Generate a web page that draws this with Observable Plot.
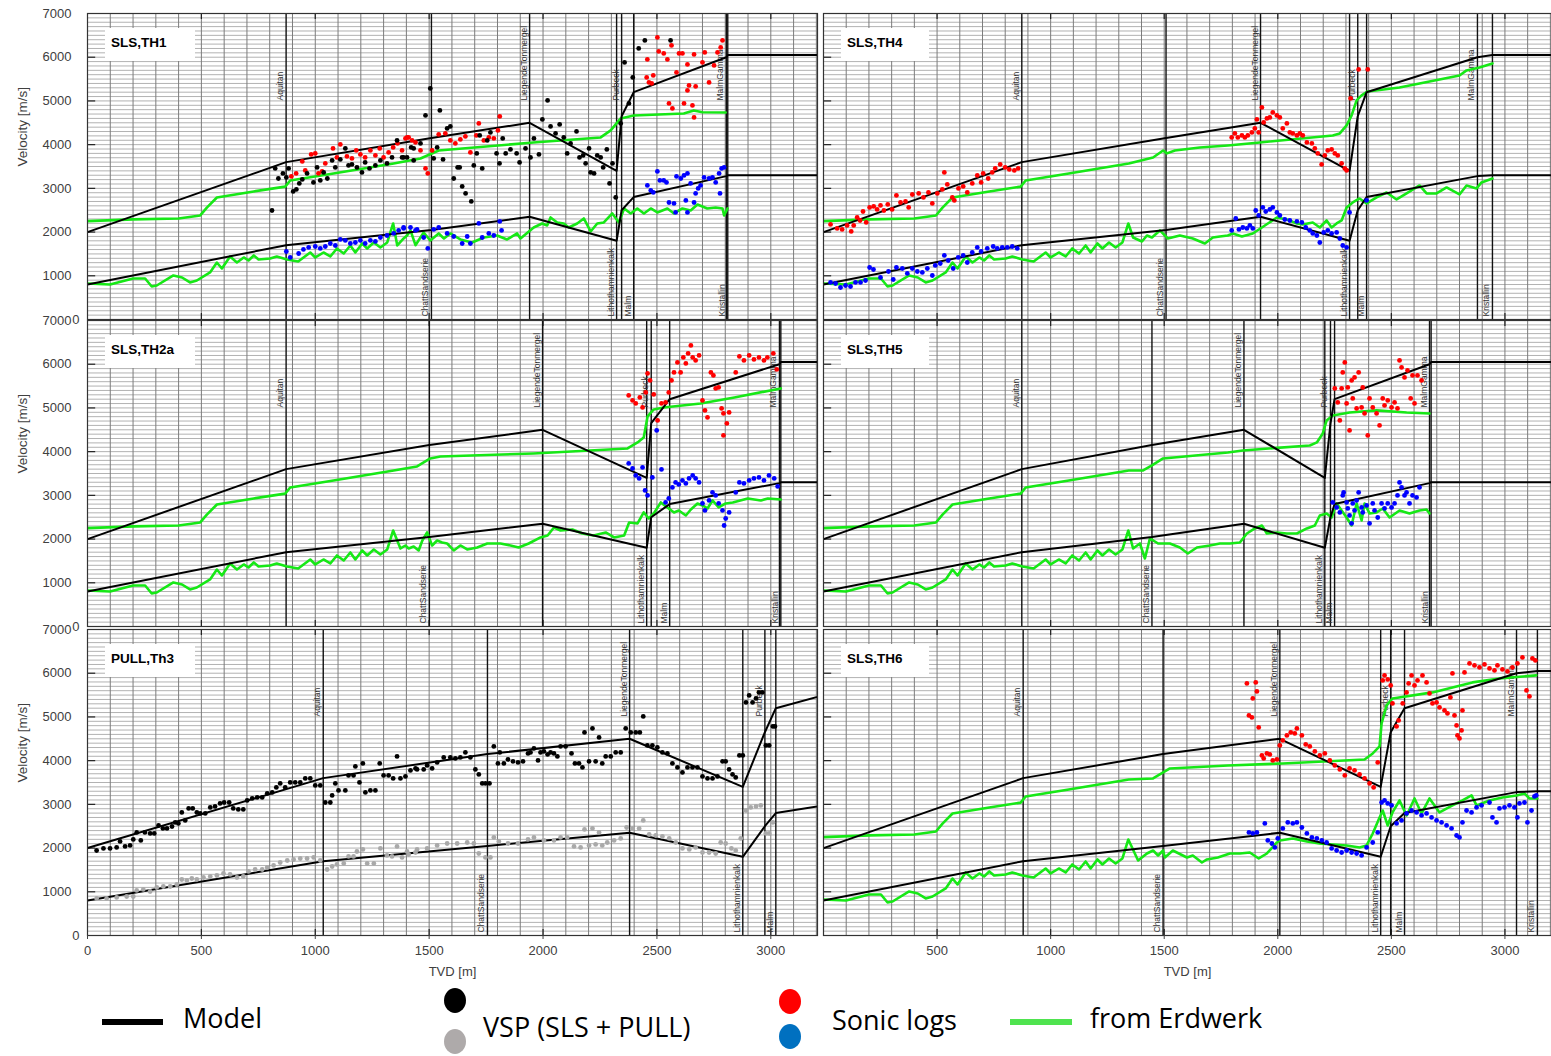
<!DOCTYPE html>
<html>
<head>
<meta charset="utf-8">
<script src="https://cdn.jsdelivr.net/npm/d3@7"></script>
<script src="https://cdn.jsdelivr.net/npm/@observablehq/plot@0.6"></script>
<style>
  body { margin: 0; background: #fff; }
  #fig { position: relative; width: 1551px; height: 1056px; overflow: hidden; font-family: "Liberation Sans", Arial, sans-serif; }
  .panel { position: absolute; }
  .panel svg { overflow: visible; max-width: none; }
  .tag { position: absolute; height: 33px; background: #fff; font-weight: bold; font-size: 13.5px; line-height: 30px; padding-left: 6px; box-sizing: border-box; color: #000; }
  .lt { position: absolute; font-family: "Open Sans", sans-serif; font-size: 27px; line-height: 32px; color: #000; white-space: nowrap; }
  .lg { position: absolute; }
  .ld { position: absolute; width: 22px; height: 25px; border-radius: 50%; }
</style>
</head>
<body>
<div id="fig"></div>
<script>
// ---- Depth axis extent (TVD, m) ----
const X_MAX = 3205;

// ---- Velocity model: value at each formation top ----
const formationNames = ["Aquitan", "ChattSandserie", "LiegendeTonmergel", "Lithothamnienkalk", "Purbeck", "Malm", "MalmGamma", "Kristallin"];
const surfaceVp = 2000;
const surfaceVs = 800;
const modelVpAtTop = [3600, 4150, 4500, 3400, 4650, 5200, 6000, 6050];
const modelVsAtTop = [1700, 2050, 2350, 1800, 2500, 2800, 3280, 3300];

// ---- Formation top depths per well (same order as formationNames) ----
const topsTH1 = [872, 1510, 1941, 2323, 2345, 2398, 2805, 2811];
const topsTH4 = [873, 1508, 1924, 2316, 2352, 2391, 2879, 2945];
const topsTH2a = [872, 1501, 1998, 2455, 2475, 2556, 3038, 3044];
const topsTH5 = [873, 1446, 1851, 2207, 2232, 2250, 2668, 2675];
const topsTh3 = [1035, 1756, 2380, 2877, 2974, 3022, 3590, 3600];
const topsTH6 = [879, 1495, 2009, 2453, 2497, 2558, 3051, 3143];

// ---- Erdwerk velocity profiles [depth, velocity] ----
const erdwerkShallowVp = [[0,2250],[200,2290],[400,2310],[495,2380],[524,2560],[568,2790],[730,2930],[868,3040],[890,3180],[1080,3340],[1344,3570]];
const erdwerkShallowVs = [[0,824],[99,800],[200,938],[253,938],[282,755],[304,778],[377,1007],[415,961],[450,847],[480,892],[538,1076],[568,1304],[590,1167],[626,1442],[656,1304],[686,1419],[707,1350],[730,1465],[751,1373],[802,1396],[831,1442],[876,1373],[925,1327],[978,1533],[1000,1419],[1036,1533],[1066,1442],[1095,1625],[1125,1510],[1154,1693],[1176,1533],[1206,1739],[1228,1625],[1257,1762],[1286,1648],[1316,1762],[1342,2197]];

const erdwerkVpTH1 = [[1462,3684],[1542,3867],[1958,4050],[2253,4165],[2297,4325],[2341,4600],[2398,4668],[2618,4714],[2662,4783],[2700,4740],[2802,4737]];
const erdwerkVsTH1 = [[1360,1693],[1388,1853],[1403,1922],[1418,2037],[1440,1700],[1476,1991],[1505,1808],[1542,1968],[1565,1853],[1593,1968],[1637,1831],[1688,1762],[1740,1876],[1798,1922],[1842,1831],[1886,1968],[1901,1853],[1959,2105],[1996,2197],[2018,2151],[2033,2334],[2062,2220],[2091,2197],[2113,2105],[2150,2197],[2179,2311],[2209,2014],[2238,2197],[2267,2220],[2304,2426],[2333,2220],[2356,2540],[2385,2426],[2414,2540],[2443,2426],[2473,2540],[2502,2449],[2546,2540],[2575,2426],[2612,2540],[2648,2494],[2678,2632],[2721,2540],[2758,2563],[2788,2540],[2795,2380],[2810,2540]];

const erdwerkVpTH4 = [[1451,3707],[1495,3867],[1512,3800],[1547,3867],[1657,3936],[1780,3982],[1921,4050],[2242,4211],[2273,4256],[2303,4439],[2325,4668],[2347,5011],[2369,5126],[2396,5217],[2536,5309],[2800,5583],[2831,5698],[2888,5767],[2945,5858]];
const erdwerkVsTH4 = [[1363,1876],[1402,1785],[1424,1922],[1446,1876],[1481,2037],[1516,1853],[1569,1922],[1626,1853],[1679,1739],[1714,1876],[1745,1899],[1780,1922],[1802,1968],[1842,1899],[1890,1968],[1930,2105],[1996,2334],[2040,2288],[2084,2197],[2110,2174],[2154,2220],[2185,2105],[2215,2265],[2237,2105],[2259,2197],[2281,2265],[2303,2563],[2330,2677],[2360,2769],[2391,2655],[2435,2792],[2479,2906],[2523,2746],[2567,2883],[2624,3066],[2655,2883],[2699,2883],[2743,3021],[2800,2860],[2831,3066],[2875,2998],[2897,3135],[2945,3226]];

const erdwerkVpTH2a = [[1447,3661],[1505,3844],[1549,3890],[1958,3959],[2371,4073],[2415,4211],[2442,4325],[2459,4805],[2486,4966],[2530,5011],[2692,5103],[2840,5240],[3044,5446]];
const erdwerkVsTH2a = [[1374,1785],[1396,1853],[1410,1785],[1432,1831],[1454,1739],[1470,1968],[1491,2151],[1513,1853],[1535,1968],[1557,1922],[1579,1899],[1608,1739],[1637,1853],[1667,1762],[1711,1808],[1755,1899],[1813,1899],[1857,1853],[1893,1808],[1937,1899],[1989,2037],[2020,2083],[2048,2265],[2077,2197],[2129,2220],[2173,2128],[2222,2083],[2275,2151],[2312,2037],[2356,2083],[2378,2380],[2415,2357],[2442,2609],[2464,2471],[2486,2586],[2517,2838],[2546,2723],[2575,2609],[2596,2655],[2627,2540],[2649,2677],[2678,2815],[2700,2769],[2722,2700],[2744,2883],[2771,2723],[2802,2815],[2833,2838],[2899,2929],[2956,2883],[2987,2929],[3044,2906]];

const erdwerkVpTH5 = [[1407,3570],[1446,3684],[1495,3844],[1780,3982],[1846,4027],[2141,4142],[2172,4211],[2198,4417],[2215,4714],[2242,4828],[2316,4897],[2435,4943],[2567,4897],[2668,4874]];
const erdwerkVsTH5 = [[1363,1785],[1393,1899],[1415,1556],[1437,2014],[1473,1899],[1525,1899],[1569,1808],[1604,1670],[1644,1808],[1701,1853],[1745,1899],[1789,1899],[1833,1922],[1864,2128],[1899,2243],[1930,2311],[1952,2128],[1996,2151],[2040,2128],[2084,2128],[2128,2243],[2163,2311],[2185,2540],[2215,2586],[2237,2494],[2259,2815],[2281,2655],[2303,2494],[2325,2311],[2347,2815],[2369,2426],[2382,2815],[2404,2586],[2435,2609],[2462,2700],[2492,2494],[2536,2655],[2580,2586],[2624,2655],[2655,2677],[2668,2586]];

const erdwerkVpTH6 = [[1451,3593],[1525,3822],[1780,3890],[2022,3936],[2382,4027],[2418,4165],[2448,4325],[2457,4851],[2479,5263],[2505,5423],[2681,5561],[2857,5790],[2976,5881],[3138,5950]];
const erdwerkVsTH6 = [[1385,1716],[1424,1876],[1451,1945],[1473,1831],[1495,1945],[1503,1785],[1538,1945],[1600,1785],[1626,1831],[1666,1670],[1688,1739],[1736,1785],[1789,1876],[1833,1876],[1877,1899],[1916,1762],[1952,1876],[1996,2128],[2009,2174],[2066,2220],[2128,2151],[2185,2105],[2242,2083],[2303,2060],[2360,2014],[2391,2060],[2418,2334],[2448,2700],[2462,2860],[2484,2517],[2505,2815],[2536,3089],[2567,2746],[2602,3135],[2633,2792],[2668,3135],[2712,2815],[2769,2975],[2813,3089],[2853,3204],[2875,2975],[2932,3089],[2989,3158],[3051,3204],[3086,3249],[3108,3135],[3143,3135]];

// ---- Sonic logs [depth, velocity] ----
const sonicVpTH1 = [[895,3272],[916,3341],[943,3616],[956,3410],[982,3776],[1000,3799],[1014,3341],[1030,3387],[1044,3570],[1078,3913],[1095,3707],[1110,4005],[1139,3730],[1161,3684],[1180,3867],[1198,3776],[1219,3707],[1242,3867],[1264,3753],[1283,3913],[1300,3707],[1322,3822],[1342,3936],[1361,4027],[1381,3867],[1396,4142],[1403,4165],[1410,4165],[1425,4096],[1440,4050],[1462,3867],[1484,3455],[1494,3341],[1513,3867],[1542,4233],[1571,4256],[1593,4096],[1615,4027],[1637,4119],[1659,4188],[1681,3822],[1707,4211],[1718,4485],[1740,4096],[1762,4165],[1784,4142],[1802,4325],[1810,4645],[2455,5538],[2458,5950],[2465,5423],[2477,5400],[2484,5583],[2502,6453],[2508,6133],[2530,6087],[2546,5950],[2553,4943],[2564,6270],[2568,4828],[2586,5652],[2597,6087],[2612,6087],[2619,4943],[2634,5835],[2634,5240],[2641,5355],[2656,4897],[2663,6064],[2663,4622],[2670,5332],[2700,5881],[2710,6110],[2729,5423],[2751,5812],[2766,6110],[2780,6224],[2788,6384]];
const sonicVsTH1 = [[873,1556],[890,1419],[927,1510],[948,1602],[971,1648],[1000,1670],[1022,1625],[1044,1670],[1066,1739],[1088,1693],[1110,1831],[1132,1808],[1154,1739],[1176,1762],[1198,1808],[1219,1739],[1242,1808],[1264,1785],[1286,1876],[1315,1922],[1344,1968],[1366,2037],[1388,2105],[1388,2083],[1418,2105],[1440,2037],[1447,2060],[1476,1876],[1494,1625],[1520,2060],[1542,2105],[1579,1968],[1608,1899],[1645,1739],[1667,1899],[1681,1739],[1718,2197],[1733,1876],[1762,1968],[1784,1922],[1810,2243],[1818,2037],[2458,3066],[2473,2952],[2484,2906],[2502,3387],[2513,3181],[2530,3181],[2542,3135],[2553,2677],[2575,2655],[2582,2449],[2586,3272],[2605,3226],[2619,3295],[2627,2723],[2634,3341],[2634,2449],[2648,3112],[2663,2677],[2670,2883],[2681,2998],[2692,3066],[2707,3249],[2729,3226],[2744,3249],[2758,3135],[2773,3341],[2777,2883],[2784,3455],[2795,3478]];

const sonicVpTH4 = [[31,2174],[60,2083],[82,2060],[104,2151],[122,2014],[133,2151],[148,2334],[161,2265],[174,2471],[188,2220],[203,2563],[221,2586],[236,2517],[251,2609],[266,2494],[283,2632],[302,2517],[321,2838],[339,2677],[361,2700],[375,2563],[391,2860],[419,2883],[440,2792],[462,2906],[479,2655],[501,2883],[523,2975],[532,3364],[545,3089],[567,2792],[576,2723],[594,2998],[615,3044],[633,2906],[655,3112],[677,3295],[694,3135],[703,3341],[725,3226],[743,3364],[756,3455],[778,3547],[800,3478],[818,3432],[840,3410],[857,3455],[1797,4165],[1811,4256],[1824,4165],[1842,4211],[1855,4165],[1868,4211],[1886,4279],[1899,4371],[1908,4577],[1916,4279],[1930,4851],[1938,4508],[1952,4600],[1965,4622],[1978,4737],[1996,4668],[2009,4622],[2022,4371],[2040,4485],[2053,4279],[2066,4256],[2084,4211],[2097,4256],[2110,4211],[2128,4050],[2150,4027],[2163,3913],[2176,3799],[2193,3547],[2207,3753],[2220,3867],[2237,3890],[2251,3799],[2264,3753],[2281,3570],[2295,3455],[2303,3410],[2321,5057],[2356,5721],[2396,5721]];
const sonicVsTH4 = [[31,847],[53,824],[75,732],[97,778],[119,755],[141,847],[163,847],[185,892],[203,1190],[220,1144],[251,961],[286,1098],[307,915],[321,1190],[347,1167],[369,1053],[391,1167],[413,1098],[435,1076],[457,1167],[479,1007],[492,1236],[514,1281],[532,1465],[549,1350],[571,1167],[593,1419],[615,1465],[633,1304],[655,1533],[677,1648],[694,1556],[721,1625],[747,1670],[765,1625],[787,1648],[809,1648],[831,1670],[853,1625],[1797,2037],[1815,2311],[1829,2060],[1846,2105],[1864,2083],[1877,2151],[1890,2083],[1903,2494],[1916,2380],[1934,2563],[1947,2471],[1965,2517],[1978,2563],[1996,2449],[2009,2380],[2031,2288],[2053,2265],[2084,2243],[2106,2220],[2123,2105],[2141,2037],[2154,1968],[2172,1922],[2185,1762],[2202,1991],[2220,2037],[2237,1968],[2259,1991],[2273,1853],[2286,1693],[2303,1648],[2316,2449],[2391,2723]];

const sonicVpTH2a = [[2376,5286],[2393,5172],[2407,5103],[2425,5240],[2437,5011],[2451,5355],[2459,5790],[2470,5629],[2486,5309],[2503,4714],[2520,5103],[2538,5126],[2552,5355],[2564,5629],[2575,5812],[2590,6041],[2604,5812],[2616,6155],[2627,6018],[2637,6247],[2649,6430],[2657,6155],[2670,6087],[2685,6201],[2700,5172],[2711,4943],[2722,4783],[2737,5812],[2748,5744],[2758,5446],[2771,5469],[2784,4989],[2792,4874],[2792,4371],[2807,4645],[2817,4897],[2846,5812],[2862,6178],[2882,6087],[2905,6201],[2926,6110],[2948,6155],[2970,6087],[2985,6155],[3011,6247],[3026,5881]];
const sonicVsTH2a = [[2376,3730],[2393,3616],[2407,3455],[2422,3387],[2437,3638],[2448,3112],[2459,2998],[2480,3410],[2499,4485],[2520,3593],[2538,2838],[2552,2929],[2568,3181],[2582,3295],[2596,3249],[2612,3341],[2627,3272],[2641,3387],[2657,3455],[2670,3387],[2685,3295],[2700,2815],[2711,2655],[2729,2883],[2744,3066],[2758,2998],[2771,2815],[2788,2655],[2795,2311],[2802,2471],[2817,2609],[2846,3066],[2862,3295],[2882,3272],[2905,3341],[2926,3387],[2948,3410],[2970,3341],[2992,3455],[3015,3387],[3030,3204]];

const sonicVpTH5 = [[2251,5446],[2264,5126],[2273,4714],[2281,5446],[2286,5812],[2295,6041],[2303,5103],[2308,5469],[2316,4485],[2325,5629],[2330,5217],[2338,5698],[2347,4989],[2356,5812],[2369,5011],[2374,5469],[2382,4874],[2396,4371],[2404,5217],[2418,5011],[2435,4874],[2448,4600],[2462,5217],[2470,5057],[2484,5172],[2501,5011],[2514,5126],[2527,4989],[2536,6087],[2545,5927],[2558,5698],[2571,5858],[2585,5217],[2593,5744],[2602,5103],[2615,5744],[2633,5629]];
const sonicVsTH5 = [[2242,2838],[2259,2723],[2273,2609],[2286,2998],[2290,3066],[2303,2838],[2308,2700],[2316,2540],[2325,2357],[2330,2815],[2338,2655],[2347,2883],[2356,3066],[2369,2723],[2374,2609],[2391,2769],[2404,2357],[2418,2815],[2426,2655],[2440,2494],[2457,2815],[2470,2700],[2484,2815],[2501,2723],[2514,2815],[2527,2998],[2536,3295],[2545,3181],[2558,2998],[2567,3066],[2580,2815],[2593,2998],[2611,2952],[2624,3181]];

const sonicVpTH6 = [[1864,5767],[1873,5034],[1886,4989],[1890,5423],[1903,5790],[1908,5584],[1916,4760],[1930,4119],[1938,4050],[1952,4165],[1965,4142],[1978,4005],[1996,4027],[2009,4348],[2022,4462],[2040,4577],[2057,4645],[2075,4622],[2084,4737],[2106,4577],[2123,4371],[2141,4325],[2163,4211],[2185,4119],[2207,4165],[2229,4005],[2251,3890],[2273,3799],[2295,3661],[2316,3822],[2338,3776],[2360,3684],[2382,3593],[2404,3478],[2422,3387],[2440,3959],[2462,5835],[2470,5950],[2484,5858],[2497,5721],[2505,5309],[2523,4783],[2532,4920],[2550,5309],[2567,5561],[2576,5767],[2589,5950],[2602,5721],[2615,5835],[2637,5950],[2655,5790],[2668,5538],[2681,5309],[2699,5332],[2712,5217],[2734,5149],[2747,5080],[2760,5446],[2769,5995],[2778,5034],[2787,4805],[2791,4577],[2800,4508],[2809,4691],[2813,5149],[2822,6018],[2844,6224],[2866,6178],[2888,6133],[2910,6201],[2932,6110],[2954,6064],[2967,6178],[2989,6087],[3011,6041],[3033,6133],[3055,6224],[3077,6361],[3095,5606],[3108,5469],[3121,6339],[3134,6293]];
const sonicVsTH6 = [[1873,2357],[1890,2334],[1908,2357],[1943,2563],[1956,2174],[1974,2105],[1987,2014],[2000,2220],[2022,2449],[2044,2586],[2066,2563],[2084,2586],[2106,2471],[2128,2334],[2150,2243],[2172,2220],[2194,2174],[2215,2128],[2237,1991],[2259,1945],[2281,1899],[2303,1945],[2325,1899],[2347,1876],[2369,1831],[2391,2014],[2418,2128],[2440,2357],[2457,3043],[2470,3089],[2484,3021],[2501,2975],[2523,2563],[2545,2632],[2567,2792],[2589,2860],[2611,2815],[2633,2746],[2655,2792],[2677,2700],[2699,2632],[2721,2586],[2743,2517],[2765,2449],[2787,2288],[2800,2243],[2813,2586],[2831,2860],[2853,2815],[2875,2929],[2897,2975],[2932,3043],[2945,2700],[2963,2586],[2976,2906],[2998,2929],[3020,2975],[3042,2929],[3055,2700],[3064,3021],[3086,3043],[3099,2586],[3117,2860],[3130,3181],[3138,3204]];

// ---- VSP [depth, velocity] ----
const vspVpTH1 = [[810,2494],[824,3455],[838,3226],[858,3341],[873,3249],[883,3455],[903,2929],[917,2975],[930,3112],[943,3204],[964,3341],[992,3135],[1008,3478],[1022,3181],[1037,3364],[1053,3226],[1074,3638],[1088,3478],[1110,3661],[1132,3913],[1146,3524],[1161,3547],[1183,3478],[1205,3364],[1219,3593],[1238,3455],[1264,3524],[1286,3638],[1315,3570],[1337,3707],[1359,4096],[1381,3707],[1388,3707],[1403,3707],[1421,3936],[1432,3638],[1432,3913],[1462,4027],[1484,4668],[1505,5286],[1520,3684],[1535,3936],[1547,4783],[1561,3661],[1579,4371],[1593,4417],[1608,3226],[1625,3478],[1634,3478],[1645,3044],[1660,2883],[1685,2700],[1696,3524],[1709,3799],[1722,4211],[1733,3455],[1755,4096],[1769,4279],[1796,3799],[1809,3570],[1823,4142],[1836,3799],[1857,3890],[1884,3799],[1897,3593],[1923,3913],[1945,3707],[1960,4142],[1982,3776],[1997,4577],[2020,5011],[2033,4417],[2055,4256],[2073,4462],[2091,4165],[2106,3799],[2121,4027],[2147,4302],[2160,3707],[2176,3753],[2187,3570],[2202,3913],[2209,3364],[2224,3341],[2238,3753],[2253,3707],[2264,3478],[2280,3890],[2292,3112],[2305,3570],[2319,2792],[2341,4485],[2358,5881],[2377,4943],[2394,5538],[2420,6201],[2447,6384],[2560,6384]];

const vspVpTh3 = [[40,1945],[70,1991],[99,1991],[128,2014],[143,2151],[165,2037],[187,2060],[201,2197],[216,2357],[234,2174],[252,2357],[275,2334],[293,2334],[312,2517],[331,2449],[349,2449],[371,2494],[385,2586],[399,2563],[414,2815],[429,2632],[444,2906],[462,2906],[480,2815],[495,2792],[517,2792],[539,2929],[560,2952],[582,3021],[600,3043],[622,3043],[640,2906],[662,2883],[684,2883],[701,3089],[723,3135],[745,3158],[767,3158],[789,3249],[811,3272],[829,3387],[846,3478],[868,3387],[890,3501],[912,3501],[934,3501],[956,3593],[978,3593],[1000,3432],[1022,3432],[1044,3043],[1066,3043],[1074,3204],[1088,3478],[1102,3318],[1132,3318],[1146,3661],[1168,3661],[1176,3867],[1194,3501],[1209,3936],[1220,3272],[1242,3318],[1264,3318],[1283,3936],[1300,3661],[1322,3661],[1342,3593],[1359,4096],[1374,3593],[1396,3638],[1418,3776],[1440,3822],[1447,3799],[1476,3799],[1491,3890],[1513,3822],[1535,3959],[1564,4073],[1593,4073],[1615,4050],[1637,4073],[1659,4188],[1681,4073],[1703,3799],[1718,3684],[1733,3478],[1747,3478],[1765,3478],[1784,4325],[1802,3936],[1810,4188],[1828,3936],[1846,4027],[1868,3982],[1890,3959],[1912,3982],[1934,4165],[1945,4188],[1960,4279],[1978,4005],[1989,4188],[2004,4211],[2020,4142],[2033,4188],[2048,4165],[2063,4096],[2077,4325],[2099,4325],[2125,4165],[2140,3936],[2158,3936],[2173,3844],[2182,4645],[2202,3982],[2217,4737],[2231,3982],[2246,4531],[2260,3936],[2275,4096],[2297,4096],[2319,4188],[2341,4188],[2363,4737],[2385,4645],[2407,4645],[2425,4645],[2440,5011],[2458,4348],[2480,4348],[2502,4302],[2524,4188],[2546,4165],[2568,3936],[2590,3844],[2612,3730],[2634,3844],[2656,3844],[2678,3844],[2700,3638],[2722,3593],[2744,3593],[2766,3638],[2788,3982],[2802,3982],[2817,3799],[2832,3684],[2846,3616],[2862,4119],[2877,4119],[2891,5332],[2905,5492],[2920,5332],[2935,5423],[2948,5561],[2963,5561],[2978,4348],[2993,4348],[3009,4783],[3018,4783]];
const vspVsTh3 = [[40,847],[84,847],[128,870],[172,892],[201,892],[216,1030],[245,1053],[275,1007],[304,1098],[333,1121],[363,1121],[392,1167],[414,1281],[436,1259],[458,1304],[480,1281],[509,1327],[539,1350],[568,1373],[597,1419],[626,1396],[656,1327],[684,1350],[707,1465],[736,1510],[767,1510],[789,1556],[817,1602],[846,1670],[877,1716],[905,1739],[934,1762],[964,1762],[993,1785],[1022,1716],[1052,1510],[1074,1579],[1095,1625],[1125,1648],[1146,1808],[1168,1808],[1183,1922],[1209,1968],[1228,1648],[1257,1648],[1286,1991],[1315,1831],[1337,1808],[1359,2037],[1381,1785],[1403,1922],[1410,1853],[1440,1899],[1447,1968],[1491,1991],[1535,2060],[1579,2105],[1623,2105],[1667,2128],[1696,2105],[1718,1876],[1747,1785],[1769,1785],[1784,2243],[1806,2151],[1846,2105],[1890,2105],[1934,2197],[1960,2243],[2004,2174],[2048,2174],[2077,2243],[2106,2243],[2136,2037],[2165,2014],[2182,2426],[2202,2060],[2217,2449],[2231,2083],[2246,2357],[2260,2060],[2282,2128],[2312,2174],[2341,2220],[2367,2471],[2393,2449],[2422,2449],[2440,2632],[2466,2311],[2495,2288],[2524,2265],[2554,2220],[2583,2128],[2612,1991],[2642,1968],[2670,2014],[2700,1899],[2729,1899],[2758,1876],[2780,2128],[2802,2105],[2827,1991],[2846,1945],[2868,2220],[2891,2860],[2912,2929],[2935,2952],[2956,2975],[2978,2334],[2993,2334],[3009,2586]];

// ---- Panel definitions ----
const panels = [
  {title: "SLS,TH1", col: 0, row: 0, tops: topsTH1, erdVp: [...erdwerkShallowVp, ...erdwerkVpTH1], erdVs: [...erdwerkShallowVs, ...erdwerkVsTH1], sonicVp: sonicVpTH1, sonicVs: sonicVsTH1, vspVp: vspVpTH1, vspVs: []},
  {title: "SLS,TH4", col: 1, row: 0, tops: topsTH4, erdVp: [...erdwerkShallowVp, ...erdwerkVpTH4], erdVs: [...erdwerkShallowVs, ...erdwerkVsTH4], sonicVp: sonicVpTH4, sonicVs: sonicVsTH4, vspVp: [], vspVs: []},
  {title: "SLS,TH2a", col: 0, row: 1, tops: topsTH2a, erdVp: [...erdwerkShallowVp, ...erdwerkVpTH2a], erdVs: [...erdwerkShallowVs, ...erdwerkVsTH2a], sonicVp: sonicVpTH2a, sonicVs: sonicVsTH2a, vspVp: [], vspVs: []},
  {title: "SLS,TH5", col: 1, row: 1, tops: topsTH5, erdVp: [...erdwerkShallowVp, ...erdwerkVpTH5], erdVs: [...erdwerkShallowVs, ...erdwerkVsTH5], sonicVp: sonicVpTH5, sonicVs: sonicVsTH5, vspVp: [], vspVs: []},
  {title: "PULL,Th3", col: 0, row: 2, tops: topsTh3, erdVp: [], erdVs: [], sonicVp: [], sonicVs: [], vspVp: vspVpTh3, vspVs: vspVsTh3},
  {title: "SLS,TH6", col: 1, row: 2, tops: topsTH6, erdVp: [...erdwerkShallowVp, ...erdwerkVpTH6], erdVs: [...erdwerkShallowVs, ...erdwerkVsTH6], sonicVp: sonicVpTH6, sonicVs: sonicVsTH6, vspVp: [], vspVs: []}
];

const rowTop = [13, 320, 629];
const PLOT_H = 306;
const MARGIN_T = 13;
const GREEN = "#16e816";

function modelCurve(tops, atTop, surface) {
  const pts = [[0, surface]];
  tops.forEach((d, i) => pts.push([d, atTop[i]]));
  pts.push([Math.max(X_MAX, tops[tops.length - 1]), atTop[atTop.length - 1]]);
  return pts;
}

function drawPanel(p) {
  const left = p.col === 0;
  const bottom = p.row === 2;
  const W = left ? 817 : 733;
  const ML = left ? 87 : 5;
  const MB = bottom ? 50 : 10;
  const forms = p.tops.map((d, i) => ({name: formationNames[i], depth: d, upper: i % 2 === 0}))
    .filter((f) => f.depth <= X_MAX);
  const txt = {fill: "#404040", fontSize: 13};
  const marks = [
    // fine grid
    Plot.ruleY(d3.range(0, 7001, 100), {stroke: "#b2b2b2", strokeWidth: 1}),
    Plot.ruleX(d3.range(100, X_MAX, 100), {stroke: "#7c7c7c", strokeWidth: 1}),
    // inward ticks on the frame
    Plot.ruleY(d3.range(1000, 7000, 1000), {x1: 0, x2: 36, stroke: "#222", strokeWidth: 1.2}),
    Plot.ruleX(d3.range(500, X_MAX, 500), {y1: 0, y2: 140, stroke: "#222", strokeWidth: 1.2}),
    Plot.ruleX(d3.range(500, X_MAX, 500), {y1: 6860, y2: 7000, stroke: "#222", strokeWidth: 1.2}),
    // formation tops
    Plot.ruleX(forms, {x: "depth", stroke: "#111", strokeWidth: 1.4}),
    Plot.text(forms.filter((f) => f.upper), {x: "depth", text: "name", frameAnchor: "top", dy: 87, dx: -3, rotate: -90, textAnchor: "start", lineAnchor: "bottom", fontSize: 8.5, fill: "#333"}),
    Plot.text(forms.filter((f) => !f.upper), {x: "depth", text: "name", frameAnchor: "bottom", dy: -3, dx: -3, rotate: -90, textAnchor: "start", lineAnchor: "bottom", fontSize: 8.5, fill: "#333"}),
    // Erdwerk profiles
    Plot.line(p.erdVp, {stroke: GREEN, strokeWidth: 2.6, clip: true}),
    Plot.line(p.erdVs, {stroke: GREEN, strokeWidth: 2.6, clip: true}),
    // velocity model
    Plot.line(modelCurve(p.tops, modelVpAtTop, surfaceVp), {stroke: "#000", strokeWidth: 2, clip: true}),
    Plot.line(modelCurve(p.tops, modelVsAtTop, surfaceVs), {stroke: "#000", strokeWidth: 2, clip: true}),
    // measurements
    Plot.dot(p.sonicVp, {r: 2.4, fill: "#ff0000"}),
    Plot.dot(p.sonicVs, {r: 2.4, fill: "#0000ff"}),
    Plot.dot(p.vspVs, {r: 2.4, fill: "#a9a9a9"}),
    Plot.dot(p.vspVp, {r: 2.4, fill: "#000"}),
    Plot.frame({stroke: "#333", strokeWidth: 1.2})
  ];
  if (left) {
    marks.push(
      Plot.axisY(d3.range(1000, 7001, 1000), {tickSize: 0, tickPadding: 16, tickFormat: "d", label: null, ...txt}),
      Plot.axisY([0], {tickSize: 0, tickPadding: 8, tickFormat: "d", label: null, ...txt}),
      Plot.text(["Velocity [m/s]"], {text: (d) => d, frameAnchor: "left", dx: -65, rotate: -90, ...txt, fontSize: 13.5})
    );
  }
  if (bottom) {
    marks.push(
      Plot.axisX(d3.range(left ? 0 : 500, 3001, 500), {tickSize: 4, tickPadding: 6, tickFormat: "d", label: null, ...txt}),
      Plot.text(["TVD [m]"], {text: (d) => d, frameAnchor: "bottom", dy: 40, ...txt})
    );
  }
  const chart = Plot.plot({
    width: W,
    height: MARGIN_T + PLOT_H + MB,
    marginLeft: ML,
    marginRight: 0,
    marginTop: MARGIN_T,
    marginBottom: MB,
    x: {domain: [0, X_MAX], axis: null},
    y: {domain: [0, 7000], axis: null},
    style: {background: "transparent", overflow: "visible", fontFamily: "'Liberation Sans', Arial, sans-serif", fontSize: "13px", color: "#404040"},
    marks
  });
  const holder = document.createElement("div");
  holder.className = "panel";
  holder.style.left = (left ? 0 : 818) + "px";
  holder.style.top = (rowTop[p.row] - MARGIN_T) + "px";
  holder.style.width = W + "px";
  holder.appendChild(chart);
  return holder;
}

const fig = document.getElementById("fig");
panels.forEach((p) => fig.appendChild(drawPanel(p)));

// panel name boxes
panels.forEach((p) => {
  const tag = document.createElement("div");
  tag.className = "tag";
  tag.textContent = p.title;
  tag.style.left = (p.col === 0 ? 105 : 841) + "px";
  tag.style.top = (rowTop[p.row] + 15) + "px";
  tag.style.width = (p.col === 0 ? 90 : 88) + "px";
  fig.appendChild(tag);
});

// legend
const legendItems = [
  {cls: "lg", left: 102, top: 1019, width: 61, height: 6, bg: "#000"},
  {cls: "lt", left: 183, top: 1002, text: "Model"},
  {cls: "ld", left: 444, top: 988, bg: "#000"},
  {cls: "ld", left: 444, top: 1029, bg: "#aeaaaa"},
  {cls: "lt", left: 483, top: 1011, text: "VSP (SLS + PULL)"},
  {cls: "ld", left: 779, top: 989, bg: "#ff0000"},
  {cls: "ld", left: 779, top: 1024, bg: "#0070c0"},
  {cls: "lt", left: 832, top: 1004, text: "Sonic logs"},
  {cls: "lg", left: 1010, top: 1019, width: 62, height: 6, bg: "#4fe34f"},
  {cls: "lt", left: 1090, top: 1002, text: "from Erdwerk"}
];
legendItems.forEach((it) => {
  const el = document.createElement("div");
  el.className = it.cls;
  el.style.left = it.left + "px";
  el.style.top = it.top + "px";
  if (it.width) el.style.width = it.width + "px";
  if (it.height) el.style.height = it.height + "px";
  if (it.bg) el.style.background = it.bg;
  if (it.text) el.textContent = it.text;
  fig.appendChild(el);
});
</script>
</body>
</html>
